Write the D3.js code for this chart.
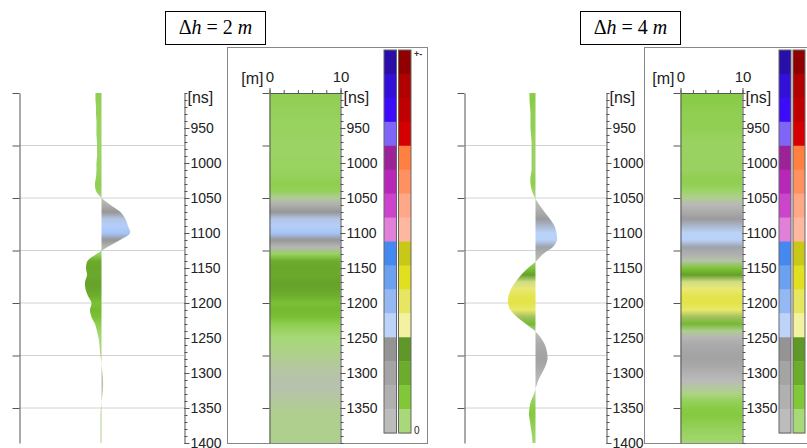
<!DOCTYPE html>
<html>
<head>
<meta charset="utf-8">
<script src="https://cdn.jsdelivr.net/npm/d3@7"></script>
<style>
  body { margin: 0; background: #fff; }
  svg { display: block; }
</style>
</head>
<body>
<svg width="807" height="448"></svg>
<script>
// sample times of the traces [ns]
var times = [900, 910, 920, 930, 940, 950, 960, 970, 980, 990,
  1000, 1010, 1020, 1030, 1040, 1050, 1060, 1070, 1080, 1090,
  1100, 1110, 1120, 1130, 1140, 1150, 1160, 1170, 1180, 1190,
  1200, 1210, 1220, 1230, 1240, 1250, 1260, 1270, 1280, 1290,
  1300, 1310, 1320, 1330, 1340, 1350, 1360, 1370, 1380, 1390, 1400];

// amplitudes, in units of the colour bar (1 = top of the bar)
var amp2m = [-0.067, -0.067, -0.061, -0.061, -0.056, -0.056, -0.056, -0.05, -0.05, -0.05,
  -0.056, -0.056, -0.061, -0.072, -0.061, 0, 0.1, 0.21, 0.267, 0.294,
  0.317, 0.206, 0.067, -0.056, -0.156, -0.172, -0.161, -0.183, -0.178, -0.15,
  -0.111, -0.128, -0.111, -0.072, -0.05, -0.033, -0.022, -0.017, -0.006, 0.002,
  0.011, 0.017, 0.017, 0.011, 0.002, -0.006, -0.011, -0.011, -0.011, -0.011, -0.011];
var amp4m = [-0.08, -0.08, -0.073, -0.067, -0.067, -0.067, -0.06, -0.053, -0.053, -0.053,
  -0.053, -0.053, -0.067, -0.067, -0.047, -0.007, 0.053, 0.12, 0.193, 0.253,
  0.28, 0.287, 0.233, 0.1, 0.013, -0.1, -0.193, -0.267, -0.327, -0.36,
  -0.367, -0.333, -0.247, -0.127, -0.007, 0.073, 0.127, 0.153, 0.16, 0.133,
  0.087, 0.04, 0.007, -0.02, -0.06, -0.08, -0.087, -0.073, -0.06, -0.047, -0.04];

// colour bar, top (max) to bottom (0)
var posColors = ['#2a0ea8', '#3210d8', '#3c0cf8', '#8066f8', '#9c2298', '#b828b8', '#cc44cc', '#e080d8',
  '#4488f0', '#6ca0f0', '#94b8f4', '#bcd4fa', '#949494', '#a4a4a4', '#b0b0b0', '#bcbcbc'];
var negColors = ['#900000', '#b00000', '#c00000', '#d40000', '#ff8040', '#ff9060', '#ffa888', '#ffb8a0',
  '#c8c818', '#e0e020', '#e6e660', '#f2f2a0', '#609828', '#6cac2c', '#80c838', '#a8d878'];

var nsLabels = [950, 1000, 1050, 1100, 1150, 1200, 1250, 1300, 1350, 1400];
var sectionLabels = [950, 1000, 1050, 1100, 1150, 1200, 1250, 1300, 1350];
var mTicks = [0, 2, 4, 6, 8, 10];
var mLabels = [0, 10];
var spacings = ['2', '4'];

var svg = d3.select('svg');
var font = "'Liberation Sans', Arial, sans-serif";
var yScale = d3.scaleLinear().domain([900, 1400]).range([93, 443]);

var colorDomain = [];
var colorRange = [];
negColors.forEach((c, i) => {
  colorDomain.push(-(15 - i + 0.5) / 16);
  colorRange.push(c);
});
posColors.slice().reverse().forEach((c, i) => {
  colorDomain.push((i + 0.5) / 16);
  colorRange.push(c);
});
var colorScale = d3.scaleLinear().domain(colorDomain).range(colorRange).clamp(true);

var panels = [
  { id: 'a', dh: spacings[0], amp: amp2m, wl: 19.5, wr: 184.5, zero: 101.5, gain: 90,
    frameX: 227.5, s0: 269.5, s1: 340.5, pad: 1, cb: 384, cbW: 12.5, titleX: 165.5 },
  { id: 'b', dh: spacings[1], amp: amp4m, wl: 464.5, wr: 606.5, zero: 535.5, gain: 75,
    frameX: 644.5, s0: 680.5, s1: 742.5, pad: -1, cb: 779, cbW: 12, titleX: 580.5 }
];

function styleAxis(g) {
  g.attr('font-family', font).attr('font-size', 14);
  g.selectAll('.domain').attr('stroke', '#555');
  g.selectAll('line').attr('stroke', '#555');
  g.selectAll('text').attr('fill', '#222');
}

function timeAxisLeft(x) {
  var g = svg.append('g').attr('transform', 'translate(' + x + ',0)');
  g.call(d3.axisLeft(yScale).tickValues(d3.range(900, 1400, 15)).tickSize(4).tickSizeOuter(0).tickFormat(''));
  g.call(d3.axisLeft(yScale).tickValues(d3.range(900, 1400, 75)).tickSize(7).tickSizeOuter(0).tickFormat(''));
  styleAxis(g);
}

function timeAxisRight(x, labels, pad) {
  var g = svg.append('g').attr('transform', 'translate(' + x + ',0)');
  g.call(d3.axisRight(yScale).tickValues(d3.range(900, 1401, 10)).tickSize(3).tickSizeOuter(0).tickFormat(''));
  var g2 = svg.append('g').attr('transform', 'translate(' + x + ',0)');
  g2.call(d3.axisRight(yScale).tickValues(labels).tickSize(5).tickPadding(pad).tickSizeOuter(0).tickFormat(d3.format('d')));
  g2.select('.domain').remove();
  styleAxis(g);
  styleAxis(g2);
  svg.append('text')
    .attr('x', x + 3)
    .attr('y', yScale(900) + 4)
    .attr('dy', '0.35em')
    .attr('font-family', font)
    .attr('font-size', 16)
    .attr('fill', '#222')
    .text('[ns]');
}

function drawPanel(p) {
  var data = times.map((t, i) => ({ t: t, a: p.amp[i] }));
  var xAmp = d3.scaleLinear().domain([-1, 1]).range([p.zero - p.gain, p.zero + p.gain]);
  var xm = d3.scaleLinear().domain([0, 10]).range([p.s0, p.s1]);

  var grad = svg.append('defs').append('linearGradient')
    .attr('id', 'grad-' + p.id)
    .attr('gradientUnits', 'userSpaceOnUse')
    .attr('x1', 0).attr('x2', 0)
    .attr('y1', yScale(900)).attr('y2', yScale(1400));
  grad.selectAll('stop')
    .data(data)
    .enter()
    .append('stop')
    .attr('offset', (d) => (d.t - 900) / 500)
    .attr('stop-color', (d) => colorScale(d.a));

  // section frame
  svg.append('rect')
    .attr('x', p.frameX).attr('y', 47.5)
    .attr('width', 200).attr('height', 396)
    .attr('fill', 'none')
    .attr('stroke', '#888');

  // title box
  svg.append('rect')
    .attr('x', p.titleX).attr('y', 11.5)
    .attr('width', 100).attr('height', 33)
    .attr('fill', '#fff')
    .attr('stroke', '#000');
  var title = svg.append('text')
    .attr('x', p.titleX + 50)
    .attr('y', 34)
    .attr('text-anchor', 'middle')
    .attr('font-family', "'Liberation Serif', 'Times New Roman', serif")
    .attr('font-size', 20)
    .attr('fill', '#000')
    .style('white-space', 'pre');
  title.append('tspan').text('\u0394');
  title.append('tspan').attr('font-style', 'italic').text('h');
  title.append('tspan').text(' = ' + p.dh + ' ');
  title.append('tspan').attr('font-style', 'italic').text('m');

  // grid of the trace plot
  svg.append('g')
    .selectAll('line')
    .data(d3.range(975, 1400, 75))
    .enter()
    .append('line')
    .attr('x1', p.wl).attr('x2', p.wr)
    .attr('y1', (d) => yScale(d)).attr('y2', (d) => yScale(d))
    .attr('stroke', '#d2d2d2');

  // wiggle trace, variable area coloured with the colour bar
  var area = d3.area()
    .curve(d3.curveCatmullRom)
    .y((d) => yScale(d.t))
    .x0(p.zero)
    .x1((d) => xAmp(d.a));
  svg.append('path')
    .datum(data)
    .attr('d', area)
    .attr('fill', 'url(#grad-' + p.id + ')');

  timeAxisLeft(p.wl);
  timeAxisRight(p.wr, nsLabels, 1);

  // section image
  svg.append('rect')
    .attr('x', p.s0).attr('y', yScale(900))
    .attr('width', p.s1 - p.s0)
    .attr('height', yScale(1400) - yScale(900))
    .attr('fill', 'url(#grad-' + p.id + ')');

  timeAxisLeft(p.s0);
  timeAxisRight(p.s1, sectionLabels, p.pad);

  var gt = svg.append('g').attr('transform', 'translate(0,' + yScale(900) + ')');
  gt.call(d3.axisTop(xm).tickValues(mTicks).tickSize(3).tickSizeOuter(0).tickFormat(''));
  var gt2 = svg.append('g').attr('transform', 'translate(0,' + yScale(900) + ')');
  gt2.call(d3.axisTop(xm).tickValues(mLabels).tickSize(5).tickPadding(6).tickSizeOuter(0));
  gt2.select('.domain').remove();
  styleAxis(gt);
  styleAxis(gt2);
  gt2.attr('font-size', 15);
  svg.append('text')
    .attr('x', p.s0 - 6)
    .attr('y', 84)
    .attr('text-anchor', 'end')
    .attr('font-family', font)
    .attr('font-size', 16)
    .attr('fill', '#222')
    .text('[m]');

  // colour bar
  var cbY = d3.scaleLinear().domain([0, 16]).range([50, 433]);
  var cols = [
    { x: p.cb, colors: posColors },
    { x: p.cb + p.cbW + 2, colors: negColors }
  ];
  cols.forEach((c) => {
    svg.append('g')
      .selectAll('rect')
      .data(c.colors)
      .enter()
      .append('rect')
      .attr('x', c.x)
      .attr('y', (d, i) => cbY(i))
      .attr('width', p.cbW)
      .attr('height', cbY(1) - cbY(0) + 0.5)
      .attr('fill', (d) => d);
    svg.append('rect')
      .attr('x', c.x).attr('y', cbY(0))
      .attr('width', p.cbW).attr('height', cbY(16) - cbY(0))
      .attr('fill', 'none')
      .attr('stroke', '#666');
  });
  var tx = p.cb + 2 * p.cbW + 5;
  svg.append('text')
    .attr('x', tx).attr('y', 57)
    .attr('font-family', font).attr('font-size', 9).attr('font-weight', 'bold')
    .attr('fill', '#333')
    .text('+-');
  svg.append('text')
    .attr('x', tx).attr('y', 434)
    .attr('font-family', font).attr('font-size', 10)
    .attr('fill', '#222')
    .text('0');
}

panels.forEach(drawPanel);
</script>
</body>
</html>
